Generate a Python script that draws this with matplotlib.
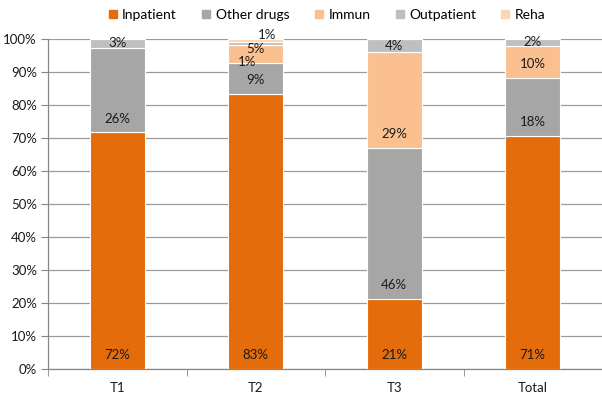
import matplotlib
matplotlib.use("Agg")
import matplotlib.pyplot as plt
from matplotlib.lines import Line2D
import numpy as np

categories = ["T1", "T2", "T3", "Total"]
series_names = ["Inpatient", "Other drugs", "Immun", "Outpatient", "Reha"]
inpatient = [71.7, 83.4, 21.3, 70.6]
other_drugs = [25.6, 9.4, 45.8, 17.6]
immun = [0.0, 5.4, 28.9, 9.8]
outpatient = [2.7, 0.8, 4.0, 2.0]
reha = [0.0, 1.0, 0.0, 0.0]
y_ticks = [0, 10, 20, 30, 40, 50, 60, 70, 80, 90, 100]

colors = ["#E46C0A", "#A6A6A6", "#FAC090", "#BFBFBF", "#FCD5B5"]
series = [inpatient, other_drugs, immun, outpatient, reha]

plt.rcParams['font.family'] = ['Lato', 'DejaVu Sans']

fig = plt.figure(figsize=(6.02, 3.95), dpi=100)
ax = fig.add_axes([48/602, 25.7/395, 554/602, 330.3/395])

x = np.arange(len(categories))
bottom = np.zeros(len(categories))
label_kw = dict(ha='center', va='center', fontsize=9.5, color='#1a1a1a')
for si, (name, vals, col) in enumerate(zip(series_names, series, colors)):
    vals = np.array(vals, dtype=float)
    ax.bar(x, vals, 0.4, bottom=bottom, color=col, edgecolor='white',
           linewidth=0.8, label=name, zorder=3)
    for i, (v, b) in enumerate(zip(vals, bottom)):
        if v <= 0:
            continue
        txt = f"{int(round(v))}%"
        if v < 1.5 and si == 3:
            # manually moved small label (below, left)
            ax.annotate(txt, (x[i], b), xytext=(-6, -12.6),
                        textcoords='offset points', zorder=5, **label_kw)
        elif v < 1.5 and si == 4:
            ax.annotate(txt, (x[i], b + v), xytext=(8, 2.6),
                        textcoords='offset points', zorder=5, **label_kw)
        elif si == 3:
            ax.annotate(txt, (x[i], b + v / 2), xytext=(0, 0),
                        textcoords='offset points', zorder=5, **label_kw)
        else:
            ax.annotate(txt, (x[i], b), xytext=(0, 10),
                        textcoords='offset points', zorder=5, **label_kw)
    bottom += vals

ax.set_xlim(-0.5, len(categories) - 0.5)
ax.set_ylim(0, 100)
ax.set_yticks(y_ticks)
ax.set_yticklabels([f"{t}%" for t in y_ticks], fontsize=9.5, color='#1a1a1a')
ax.set_xticks(x)
ax.set_xticklabels(categories, fontsize=9.5, color='#1a1a1a')
ax.tick_params(axis='x', length=0, pad=9)
ax.set_xticks(np.arange(-0.5, len(categories)), minor=True)
ax.tick_params(axis='x', which='minor', length=5, color='#868686', direction='out')
ax.tick_params(axis='y', length=5, color='#868686', direction='out', pad=3)

ax.yaxis.grid(True, color='#9a9a9a', linewidth=0.9, zorder=0)
ax.set_axisbelow(True)
for s in ['top', 'right']:
    ax.spines[s].set_visible(False)
for s in ['left', 'bottom']:
    ax.spines[s].set_color('#868686')
    ax.spines[s].set_linewidth(0.9)

handles = [Line2D([0], [0], marker='s', linestyle='none', markersize=5.5,
                  markerfacecolor=c, markeredgecolor=c) for c in colors]
fig.legend(handles, series_names, loc='center', bbox_to_anchor=(0.541, 0.962),
           ncol=5, frameon=False, fontsize=10, handletextpad=0.2,
           columnspacing=1.6, handlelength=1.0)

fig.savefig("out.png", dpi=100)
